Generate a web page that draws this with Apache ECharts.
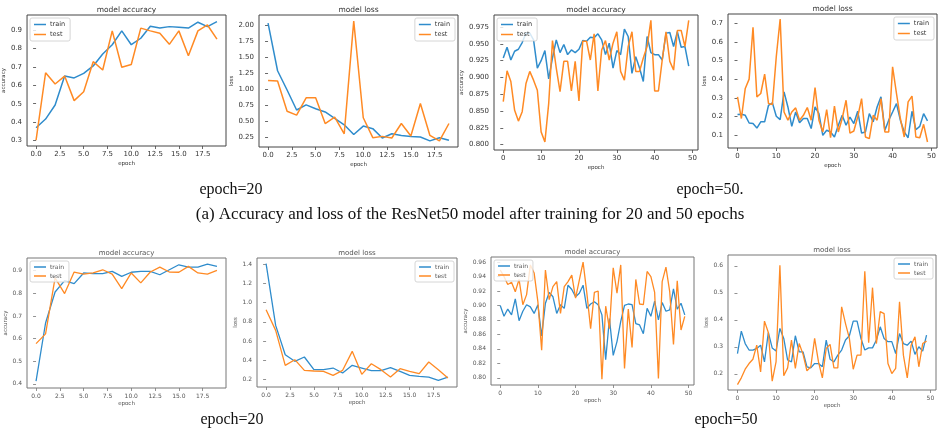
<!DOCTYPE html>
<html>
<head>
<meta charset="utf-8">
<script src="https://cdn.jsdelivr.net/npm/echarts@6/dist/echarts.min.js"></script>
<style>
html, body { margin: 0; padding: 0; background: #fff; }
#main { width: 940px; height: 436px; }
</style>
</head>
<body>
<div id="main"></div>
<script>
// (a) top row
var accA20Train = [0.370, 0.417, 0.493, 0.650, 0.640, 0.665, 0.705, 0.770, 0.820, 0.895, 0.820, 0.855, 0.920, 0.910, 0.918, 0.915, 0.910, 0.942, 0.918, 0.945];
var accA20Test = [0.303, 0.668, 0.607, 0.650, 0.517, 0.565, 0.728, 0.683, 0.895, 0.698, 0.713, 0.910, 0.895, 0.882, 0.822, 0.895, 0.760, 0.895, 0.927, 0.850];
var lossA20Train = [2.03, 1.29, 0.99, 0.68, 0.76, 0.70, 0.65, 0.55, 0.45, 0.30, 0.43, 0.39, 0.245, 0.31, 0.285, 0.27, 0.26, 0.20, 0.25, 0.21];
var lossA20Test = [1.14, 1.13, 0.66, 0.60, 0.87, 0.87, 0.47, 0.57, 0.31, 2.06, 0.56, 0.25, 0.27, 0.245, 0.47, 0.275, 0.78, 0.285, 0.20, 0.47];
var accA50Train = [0.929, 0.945, 0.926, 0.939, 0.942, 0.952, 0.966, 0.966, 0.956, 0.914,
    0.925, 0.940, 0.898, 0.929, 0.956, 0.937, 0.949, 0.934, 0.941, 0.937,
    0.942, 0.955, 0.954, 0.960, 0.959, 0.965, 0.956, 0.934, 0.951, 0.914,
    0.940, 0.934, 0.972, 0.961, 0.906, 0.931, 0.914, 0.894, 0.961, 0.937,
    0.934, 0.934, 0.926, 0.966, 0.967, 0.946, 0.968, 0.945, 0.946, 0.917];
var accA50Test = [0.864, 0.910, 0.894, 0.851, 0.835, 0.849, 0.891, 0.909, 0.896, 0.881,
    0.819, 0.804, 0.861, 0.955, 0.914, 0.879, 0.924, 0.924, 0.880, 0.924,
    0.865, 0.954, 0.954, 0.926, 0.965, 0.880, 0.941, 0.955, 0.926, 0.951,
    0.968, 0.909, 0.896, 0.946, 0.968, 0.909, 0.909, 0.929, 0.946, 0.985,
    0.880, 0.880, 0.926, 0.968, 0.924, 0.911, 0.970, 0.970, 0.946, 0.985];
var lossA50Train = [0.211, 0.213, 0.207, 0.166, 0.163, 0.139, 0.172, 0.172, 0.261, 0.274,
    0.202, 0.184, 0.333, 0.252, 0.148, 0.225, 0.168, 0.190, 0.190, 0.136,
    0.252, 0.216, 0.100, 0.127, 0.118, 0.091, 0.154, 0.207, 0.154, 0.198,
    0.163, 0.229, 0.112, 0.118, 0.216, 0.172, 0.252, 0.306, 0.127, 0.181,
    0.225, 0.270, 0.181, 0.118, 0.087, 0.229, 0.130, 0.148, 0.216, 0.177];
var lossA50Test = [0.306, 0.190, 0.351, 0.401, 0.679, 0.306, 0.324, 0.428, 0.270, 0.265,
    0.521, 0.723, 0.225, 0.181, 0.225, 0.247, 0.181, 0.207, 0.249, 0.181,
    0.356, 0.181, 0.118, 0.238, 0.087, 0.256, 0.118, 0.190, 0.288, 0.112,
    0.123, 0.198, 0.297, 0.091, 0.082, 0.207, 0.181, 0.297, 0.118, 0.118,
    0.467, 0.324, 0.190, 0.091, 0.279, 0.310, 0.091, 0.087, 0.159, 0.064];

// bottom row
var accB20Train = [0.412, 0.669, 0.806, 0.856, 0.843, 0.890, 0.887, 0.887, 0.897, 0.875, 0.893, 0.897, 0.897, 0.882, 0.904, 0.926, 0.916, 0.916, 0.929, 0.919];
var accB20Test = [0.578, 0.621, 0.868, 0.799, 0.894, 0.885, 0.890, 0.904, 0.885, 0.821, 0.890, 0.846, 0.894, 0.916, 0.894, 0.893, 0.919, 0.890, 0.885, 0.901];
var lossB20Train = [1.407, 0.763, 0.457, 0.388, 0.433, 0.301, 0.301, 0.318, 0.266, 0.346, 0.318, 0.290, 0.290, 0.322, 0.283, 0.242, 0.231, 0.224, 0.190, 0.224];
var lossB20Test = [0.927, 0.711, 0.346, 0.405, 0.294, 0.287, 0.283, 0.242, 0.294, 0.492, 0.252, 0.363, 0.301, 0.224, 0.311, 0.283, 0.259, 0.381, 0.301, 0.214];
var accB50Train = [0.900, 0.885, 0.895, 0.887, 0.909, 0.879, 0.892, 0.901, 0.898, 0.889,
    0.901, 0.858, 0.903, 0.918, 0.912, 0.889, 0.901, 0.896, 0.928, 0.922,
    0.912, 0.917, 0.928, 0.896, 0.902, 0.905, 0.901, 0.887, 0.825, 0.882,
    0.831, 0.850, 0.878, 0.900, 0.902, 0.901, 0.875, 0.873, 0.861, 0.896,
    0.885, 0.906, 0.880, 0.904, 0.892, 0.894, 0.923, 0.895, 0.903, 0.887];
var accB50Test = [0.949, 0.940, 0.929, 0.932, 0.919, 0.936, 0.901, 0.915, 0.956, 0.945,
    0.905, 0.838, 0.949, 0.908, 0.926, 0.933, 0.889, 0.926, 0.933, 0.942,
    0.910, 0.935, 0.960, 0.917, 0.868, 0.918, 0.920, 0.798, 0.899, 0.868,
    0.952, 0.917, 0.956, 0.813, 0.895, 0.842, 0.936, 0.902, 0.901, 0.947,
    0.940, 0.918, 0.799, 0.933, 0.953, 0.919, 0.846, 0.934, 0.866, 0.885];
var lossB50Train = [0.275, 0.358, 0.312, 0.288, 0.288, 0.294, 0.306, 0.244, 0.353, 0.296,
    0.284, 0.368, 0.331, 0.251, 0.244, 0.341, 0.281, 0.281, 0.226, 0.222,
    0.238, 0.238, 0.226, 0.325, 0.254, 0.244, 0.269, 0.288, 0.325, 0.341,
    0.395, 0.395, 0.331, 0.288, 0.296, 0.296, 0.325, 0.374, 0.331, 0.319,
    0.319, 0.275, 0.349, 0.312, 0.306, 0.321, 0.272, 0.300, 0.284, 0.343];
var lossB50Test = [0.160, 0.185, 0.217, 0.238, 0.254, 0.306, 0.207, 0.395, 0.353, 0.173,
    0.244, 0.602, 0.193, 0.222, 0.325, 0.220, 0.312, 0.272, 0.211, 0.226,
    0.331, 0.244, 0.185, 0.294, 0.309, 0.222, 0.222, 0.448, 0.386, 0.331,
    0.217, 0.269, 0.269, 0.580, 0.315, 0.519, 0.312, 0.430, 0.423, 0.238,
    0.201, 0.220, 0.467, 0.269, 0.185, 0.306, 0.337, 0.226, 0.312, 0.321];

// tick labels
var xTicks20 = [0, 2.5, 5, 7.5, 10, 12.5, 15, 17.5];
var xTicks50 = [0, 10, 20, 30, 40, 50];
var yTicksAccA20 = [0.3, 0.4, 0.5, 0.6, 0.7, 0.8, 0.9];
var yTicksLossA20 = [0.25, 0.5, 0.75, 1.0, 1.25, 1.5, 1.75, 2.0];
var yTicksAccA50 = [0.8, 0.825, 0.85, 0.875, 0.9, 0.925, 0.95, 0.975];
var yTicksLossA50 = [0.1, 0.2, 0.3, 0.4, 0.5, 0.6, 0.7];
var yTicksAccB20 = [0.4, 0.5, 0.6, 0.7, 0.8, 0.9];
var yTicksLossB20 = [0.2, 0.4, 0.6, 0.8, 1.0, 1.2, 1.4];
var yTicksAccB50 = [0.8, 0.82, 0.84, 0.86, 0.88, 0.9, 0.92, 0.94, 0.96];
var yTicksLossB50 = [0.2, 0.3, 0.4, 0.5, 0.6];

var blue = '#2f8ccc';
var orange = '#ff8a24';

var panels = [
    {title: 'model accuracy', grid: [27, 15, 199, 131], x: [-0.95, 19.95], xt: xTicks20, xd: 1,
        y: [0.271, 0.981], yt: yTicksAccA20, yd: 1, yName: 'accuracy', tr: accA20Train, te: accA20Test, leg: 'left', row: 0},
    {title: 'model loss', grid: [259, 15, 199, 132], x: [-0.95, 19.95], xt: xTicks20, xd: 1,
        y: [0.105, 2.156], yt: yTicksLossA20, yd: 2, yName: 'loss', tr: lossA20Train, te: lossA20Test, leg: 'right', row: 0},
    {title: 'model accuracy', grid: [494, 15, 204, 135], x: [-2.45, 51.45], xt: xTicks50, xd: 0,
        y: [0.792, 0.993], yt: yTicksAccA50, yd: 3, yName: 'accuracy', tr: accA50Train, te: accA50Test, leg: 'left', row: 0},
    {title: 'model loss', grid: [728, 14, 209, 134], x: [-2.45, 51.45], xt: xTicks50, xd: 0,
        y: [0.032, 0.750], yt: yTicksLossA50, yd: 1, yName: 'loss', tr: lossA50Train, te: lossA50Test, leg: 'right', row: 0},
    {title: 'model accuracy', grid: [27, 258, 199, 130], x: [-0.95, 19.95], xt: xTicks20, xd: 1,
        y: [0.382, 0.956], yt: yTicksAccB20, yd: 1, yName: 'accuracy', tr: accB20Train, te: accB20Test, leg: 'left', row: 1},
    {title: 'model loss', grid: [257, 258, 200, 129], x: [-0.95, 19.95], xt: xTicks20, xd: 1,
        y: [0.12, 1.466], yt: yTicksLossB20, yd: 1, yName: 'loss', tr: lossB20Train, te: lossB20Test, leg: 'right', row: 1},
    {title: 'model accuracy', grid: [491, 257, 203, 128], x: [-2.45, 51.45], xt: xTicks50, xd: 0,
        y: [0.790, 0.967], yt: yTicksAccB50, yd: 2, yName: 'accuracy', tr: accB50Train, te: accB50Test, leg: 'left', row: 1},
    {title: 'model loss', grid: [728, 255, 208, 135], x: [-2.45, 51.45], xt: xTicks50, xd: 0,
        y: [0.140, 0.640], yt: yTicksLossB50, yd: 1, yName: 'loss', tr: lossB50Train, te: lossB50Test, leg: 'right', row: 1}
];

var grids = [], xAxes = [], yAxes = [], series = [], legends = [], graphics = [];

panels.forEach(function (p, i) {
    var g = p.grid;
    var frame = p.row === 0 ? '#444' : '#777';
    var txt = p.row === 0 ? '#333' : '#555';
    var tick = p.row === 0 ? 7 : 6;
    grids.push({left: g[0], top: g[1], width: g[2], height: g[3], show: true,
        borderColor: frame, borderWidth: 1, backgroundColor: '#fff'});
    xAxes.push({
        type: 'value', gridIndex: i, min: p.x[0], max: p.x[1],
        name: 'epoch', nameLocation: 'middle', nameGap: p.row === 0 ? 15 : 13,
        nameTextStyle: {fontFamily: 'DejaVu Sans', fontSize: 5.5, color: txt},
        splitLine: {show: false},
        axisLine: {show: false},
        axisTick: {show: true, length: 3, customValues: p.xt, lineStyle: {color: frame, width: 0.8}},
        axisLabel: {customValues: p.xt, margin: 5, fontFamily: 'DejaVu Sans', fontSize: tick, color: txt,
            formatter: (function (d) { return function (v) { return v.toFixed(d); }; })(p.xd)}
    });
    yAxes.push({
        type: 'value', gridIndex: i, min: p.y[0], max: p.y[1],
        name: p.yName, nameLocation: 'middle', nameGap: p.yd === 3 ? 25 : (p.yd === 2 ? 21 : 16),
        nameTextStyle: {fontFamily: 'DejaVu Sans', fontSize: 5.5, color: txt},
        splitLine: {show: false},
        axisLine: {show: false},
        axisTick: {show: true, length: 3, customValues: p.yt, lineStyle: {color: frame, width: 0.8}},
        axisLabel: {customValues: p.yt, margin: 5, fontFamily: 'DejaVu Sans', fontSize: tick, color: txt,
            formatter: (function (d) { return function (v) { return v.toFixed(d); }; })(p.yd)}
    });
    var lw = p.row === 0 ? 1.5 : 1.3;
    series.push({name: 'train', type: 'line', xAxisIndex: i, yAxisIndex: i, symbol: 'none',
        lineStyle: {color: blue, width: lw}, itemStyle: {color: blue},
        data: p.tr.map(function (v, k) { return [k, v]; })});
    series.push({name: 'test', type: 'line', xAxisIndex: i, yAxisIndex: i, symbol: 'none',
        lineStyle: {color: orange, width: lw}, itemStyle: {color: orange},
        data: p.te.map(function (v, k) { return [k, v]; })});
    var leg = {
        data: ['train', 'test'], orient: 'vertical', top: g[1] + 3,
        icon: 'rect', itemWidth: 12, itemHeight: 1.5, itemGap: 3,
        borderColor: '#ccc', borderWidth: 0.8, borderRadius: 2, backgroundColor: 'rgba(255,255,255,0.8)',
        padding: [3, 5, 3, 4],
        textStyle: {fontFamily: 'DejaVu Sans', fontSize: p.row === 0 ? 6.5 : 6, color: txt, padding: [0, 0, 0, -1]}
    };
    if (p.leg === 'left') leg.left = g[0] + 3; else leg.right = 940 - (g[0] + g[2]) + 3;
    legends.push(leg);
    graphics.push({type: 'text', x: g[0] + g[2] / 2, y: g[1] - 5,
        style: {text: p.title, textAlign: 'center', textVerticalAlign: 'middle',
            font: (p.row === 0 ? 7.5 : 7) + 'px "DejaVu Sans"', fill: txt}});
});

var serif = '"Liberation Serif", "Times New Roman", serif';
graphics.push({type: 'text', x: 231, y: 190, style: {text: 'epoch=20', textAlign: 'center', textVerticalAlign: 'middle', font: '16px ' + serif, fill: '#111'}});
graphics.push({type: 'text', x: 710, y: 190, style: {text: 'epoch=50.', textAlign: 'center', textVerticalAlign: 'middle', font: '16px ' + serif, fill: '#111'}});
graphics.push({type: 'text', x: 470, y: 215, style: {text: '(a) Accuracy and loss of the ResNet50 model after training for 20 and 50 epochs', textAlign: 'center', textVerticalAlign: 'middle', font: '17px ' + serif, fill: '#111'}});
graphics.push({type: 'text', x: 232, y: 420, style: {text: 'epoch=20', textAlign: 'center', textVerticalAlign: 'middle', font: '16px ' + serif, fill: '#111'}});
graphics.push({type: 'text', x: 726, y: 420, style: {text: 'epoch=50', textAlign: 'center', textVerticalAlign: 'middle', font: '16px ' + serif, fill: '#111'}});

var chart = echarts.init(document.getElementById('main'), null, {renderer: 'canvas'});
chart.setOption({
    backgroundColor: '#fff',
    animation: false,
    grid: grids,
    xAxis: xAxes,
    yAxis: yAxes,
    legend: legends,
    series: series,
    graphic: graphics
});
</script>
</body>
</html>
